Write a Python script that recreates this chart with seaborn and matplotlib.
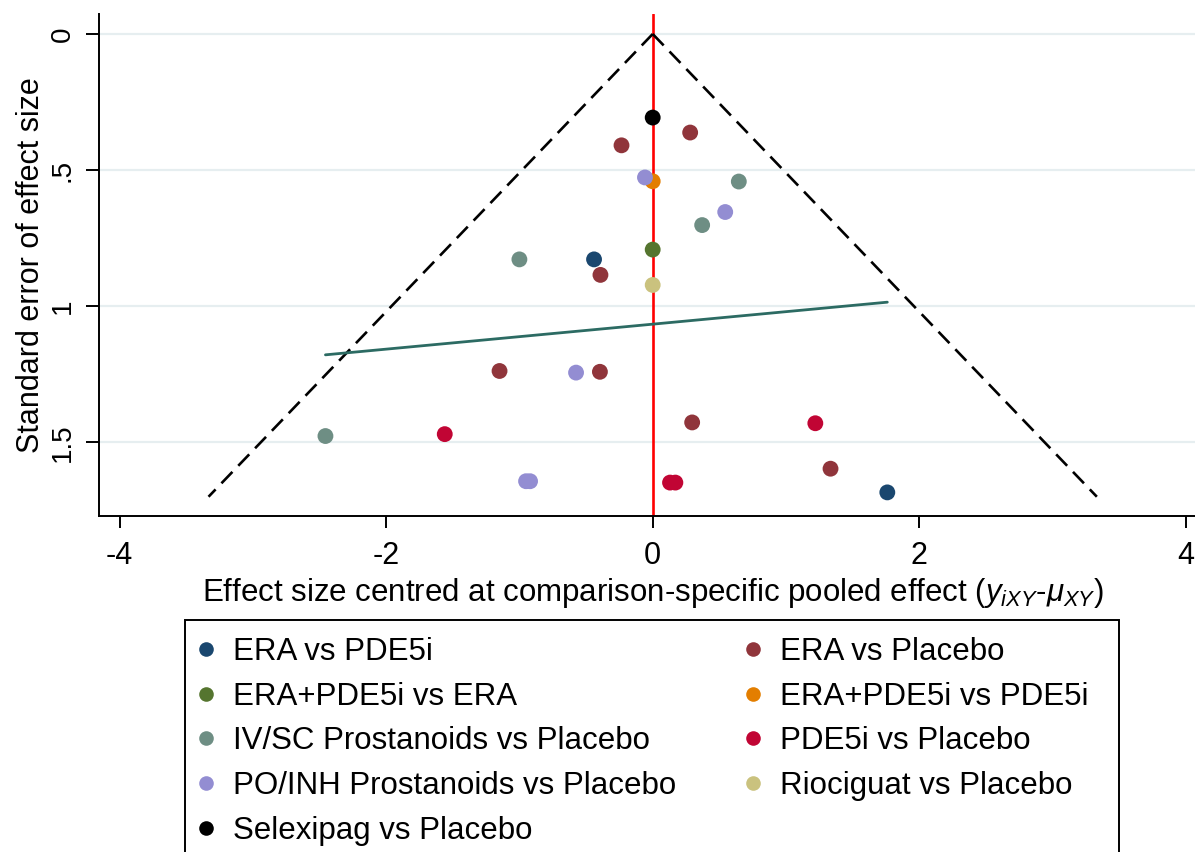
import numpy as np
import pandas as pd
import matplotlib
matplotlib.use("Agg")
import matplotlib.pyplot as plt
from matplotlib.lines import Line2D
from matplotlib.patches import Rectangle
import seaborn as sns

# ---- comparisons and their colours ----
comparisons = [
    "ERA vs PDE5i",
    "ERA vs Placebo",
    "ERA+PDE5i vs ERA",
    "ERA+PDE5i vs PDE5i",
    "IV/SC Prostanoids vs Placebo",
    "PDE5i vs Placebo",
    "PO/INH Prostanoids vs Placebo",
    "Riociguat vs Placebo",
    "Selexipag vs Placebo",
]
colors = ["#1a476f", "#90353b", "#55752f", "#e37e00", "#6e8e84",
          "#c10534", "#938dd2", "#cac27e", "#000000"]

# ---- study effects centred at the comparison-specific pooled effect, and their SEs ----
era_pde5i_eff = [-0.44, 1.76]
era_pde5i_se = [0.828, 1.684]

era_placebo_eff = [-0.234, 0.281, -0.392, -1.149, -0.396, 0.296, 1.334]
era_placebo_se = [0.409, 0.362, 0.885, 1.238, 1.241, 1.427, 1.597]

combo_era_eff = [0.0]
combo_era_se = [0.792]

combo_pde5i_eff = [0.0]
combo_pde5i_se = [0.541]

ivsc_eff = [0.646, 0.371, -1.0, -2.455]
ivsc_se = [0.542, 0.702, 0.828, 1.477]

pde5i_placebo_eff = [-1.56, 1.22, 0.13, 0.17]
pde5i_placebo_se = [1.47, 1.43, 1.648, 1.648]

poinh_eff = [-0.058, 0.544, -0.575, -0.95, -0.92]
poinh_se = [0.527, 0.654, 1.244, 1.643, 1.643]

riociguat_eff = [0.0]
riociguat_se = [0.922]

selexipag_eff = [0.0]
selexipag_se = [0.307]

# ---- funnel limits and small-study regression line ----
z_crit = 1.96
funnel_se_max = 1.70
reg_intercept = 1.066
reg_slope = -0.0459

x_ticks = [-4, -2, 0, 2, 4]
y_ticks = [0, 0.5, 1, 1.5]
y_tick_labels = ["0", ".5", "1", "1.5"]

effects = [era_pde5i_eff, era_placebo_eff, combo_era_eff, combo_pde5i_eff, ivsc_eff,
           pde5i_placebo_eff, poinh_eff, riociguat_eff, selexipag_eff]
ses = [era_pde5i_se, era_placebo_se, combo_era_se, combo_pde5i_se, ivsc_se,
       pde5i_placebo_se, poinh_se, riociguat_se, selexipag_se]

df = pd.concat(
    [pd.DataFrame({"comparison": name, "effect": e, "se": s})
     for name, e, s in zip(comparisons, effects, ses)],
    ignore_index=True,
)
palette = dict(zip(comparisons, colors))

# ---- style ----
sns.set_theme(style="white")
plt.rcParams["font.family"] = ["Liberation Sans", "DejaVu Sans"]
plt.rcParams["mathtext.fontset"] = "custom"
plt.rcParams["mathtext.rm"] = "Liberation Sans"
plt.rcParams["mathtext.it"] = "Liberation Sans:italic"
plt.rcParams["mathtext.bf"] = "Liberation Sans:bold"
for key in ("text.color", "axes.labelcolor", "xtick.color", "ytick.color"):
    plt.rcParams[key] = "black"

W, H = 1195, 852
fig = plt.figure(figsize=(W / 100, H / 100), dpi=100)
ax_left, ax_right, ax_top, ax_bottom = 99, 1195, 14.3, 515.7
ax = fig.add_axes([ax_left / W, 1 - ax_bottom / H,
                   (ax_right - ax_left) / W, (ax_bottom - ax_top) / H])

grid_col = "#e6eef0"
for yt in y_ticks:
    ax.axhline(yt, color=grid_col, lw=1.6, zorder=0)

# line of no difference
ax.axvline(0, color="#ff0000", lw=1.9, zorder=2)

# pseudo 95% confidence limits
se_line = np.array([0.0, funnel_se_max])
for side in (-1, 1):
    ax.plot(side * z_crit * se_line, se_line, color="black", lw=1.9,
            ls=(0, (6.0, 3.2)), zorder=2)

# study points
sns.scatterplot(data=df, x="effect", y="se", hue="comparison", hue_order=comparisons,
                palette=palette, s=130, linewidth=0, legend=False, zorder=3, ax=ax)

# regression line across the observed range of effects
xr = np.array([df["effect"].min(), df["effect"].max()])
ax.plot(xr, reg_intercept + reg_slope * xr, color="#2c6b63", lw=2.0, zorder=4)

ax.set_xlim((ax_left - 652.7) / 133.3, (ax_right - 652.7) / 133.3)
ax.set_ylim((ax_bottom - 34.0) / 272.2, (ax_top - 34.0) / 272.2)

ax.set_xticks(x_ticks)
ax.set_xticklabels([str(t) for t in x_ticks])
ax.set_yticks(y_ticks)
ax.set_yticklabels(y_tick_labels, rotation=90, va="center")

for s in ("top", "right"):
    ax.spines[s].set_visible(False)
for s in ("left", "bottom"):
    ax.spines[s].set_color("black")
    ax.spines[s].set_linewidth(1.4)

ax.tick_params(axis="x", direction="out", length=8.8, width=1.4, color="black",
               labelsize=22, pad=9.5, bottom=True)
ax.tick_params(axis="y", direction="out", length=9.2, width=1.4, color="black",
               labelsize=20, pad=7.5, left=True)

ax.set_xlabel(r"Effect size centred at comparison-specific pooled effect "
              r"($\mathit{y}_{\mathit{iXY}}$-$\mathit{\mu}_{\mathit{XY}}$)",
              fontsize=22.5, color="black")
ax.xaxis.set_label_coords(0.505, -0.120)
ax.set_ylabel("Standard error of effect size", fontsize=22, color="black")
ax.yaxis.set_label_coords(-0.0485, 0.5)

# ---- legend: two columns, row-wise ordering ----
fs = 22.5
handles = [Line2D([], [], ls="none", marker="o", markersize=10.5,
                  markerfacecolor=c, markeredgewidth=0) for c in colors]
common = dict(frameon=False, fontsize=fs, handlelength=0.6, handletextpad=0.565,
              labelspacing=0.47, borderpad=0, borderaxespad=0, loc="upper left",
              bbox_transform=fig.transFigure, labelcolor="black")
col1 = [0, 2, 4, 6, 8]
col2 = [1, 3, 5, 7]
leg1 = fig.legend([handles[i] for i in col1], [comparisons[i] for i in col1],
                  bbox_to_anchor=(196.6 / W, 1 - 637 / H), **common)
leg2 = fig.legend([handles[i] for i in col2], [comparisons[i] for i in col2],
                  bbox_to_anchor=(743.6 / W, 1 - 637 / H), **common)

fig.add_artist(Rectangle((185 / W, -20 / H), (1119 - 185) / W, (H - 620 + 20) / H,
                         transform=fig.transFigure, fill=False, edgecolor="black",
                         lw=1.4, clip_on=False))

fig.savefig("out.png", dpi=100, facecolor="white")
